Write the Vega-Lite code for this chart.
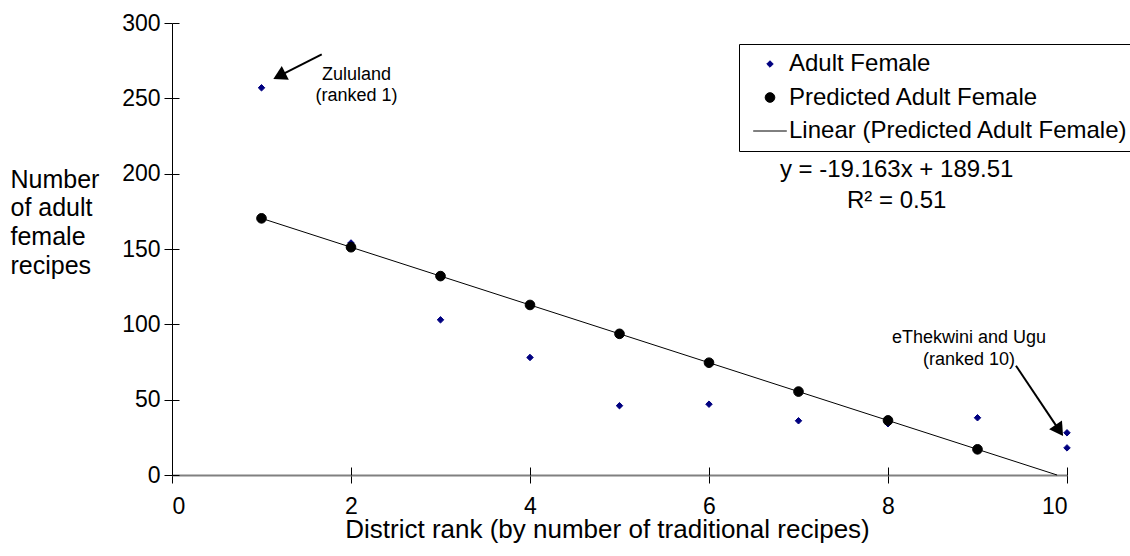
{
  "$schema": "https://vega.github.io/schema/vega-lite/v6.json",
  "width": 895,
  "height": 452,
  "autosize": {"type": "none"},
  "padding": {"left": 172, "top": 23, "right": 63, "bottom": 81},
  "background": "white",
  "config": {
    "font": "Liberation Sans",
    "view": {"stroke": null},
    "axis": {"grid": false, "labelColor": "black", "titleColor": "black", "labelFont": "Liberation Sans", "titleFont": "Liberation Sans", "titleFontWeight": "normal"}
  },
  "datasets": {
    "observed": [
      {"rank": 1, "count": 257, "series": "Adult Female"},
      {"rank": 2, "count": 154, "series": "Adult Female"},
      {"rank": 3, "count": 103, "series": "Adult Female"},
      {"rank": 4, "count": 78, "series": "Adult Female"},
      {"rank": 5, "count": 46, "series": "Adult Female"},
      {"rank": 6, "count": 47, "series": "Adult Female"},
      {"rank": 7, "count": 36, "series": "Adult Female"},
      {"rank": 8, "count": 34, "series": "Adult Female"},
      {"rank": 9, "count": 38, "series": "Adult Female"},
      {"rank": 10, "count": 28, "series": "Adult Female"},
      {"rank": 10, "count": 18, "series": "Adult Female"}
    ],
    "predicted": [
      {"rank": 1, "count": 170.35, "series": "Predicted Adult Female"},
      {"rank": 2, "count": 151.18, "series": "Predicted Adult Female"},
      {"rank": 3, "count": 132.02, "series": "Predicted Adult Female"},
      {"rank": 4, "count": 112.86, "series": "Predicted Adult Female"},
      {"rank": 5, "count": 93.7, "series": "Predicted Adult Female"},
      {"rank": 6, "count": 74.53, "series": "Predicted Adult Female"},
      {"rank": 7, "count": 55.37, "series": "Predicted Adult Female"},
      {"rank": 8, "count": 36.21, "series": "Predicted Adult Female"},
      {"rank": 9, "count": 17.04, "series": "Predicted Adult Female"}
    ],
    "trend": [
      {"rank": 1, "count": 170.35},
      {"rank": 9.889, "count": 0}
    ],
    "equation": [
      {"rank": 8.097, "count": 198.0, "label": "y = -19.163x + 189.51"},
      {"rank": 8.097, "count": 177.0, "label": "R² = 0.51"}
    ],
    "notes": [
      {"rank": 2.061, "count": 262.5, "label": "Zululand"},
      {"rank": 2.061, "count": 248.5, "label": "(ranked 1)"},
      {"rank": 8.905, "count": 87.3, "label": "eThekwini and Ugu"},
      {"rank": 8.905, "count": 73.0, "label": "(ranked 10)"}
    ],
    "arrowLines": [
      {"rank": 1.673, "count": 279.2, "rank2": 1.199, "count2": 264.9},
      {"rank": 9.43, "count": 72.5, "rank2": 9.914, "count2": 29.6}
    ]
  },
  "resolve": {"axis": {"x": "independent", "y": "independent"}},
  "layer": [
    {
      "data": {"name": "observed"},
      "mark": {"type": "point", "filled": true, "opacity": 1, "strokeWidth": 1},
      "encoding": {
        "x": {
          "field": "rank", "type": "quantitative",
          "scale": {"domain": [0, 10], "nice": false},
          "axis": {
            "orient": "bottom",
            "values": [0, 2, 4, 6, 8, 10],
            "tickSize": 8, "tickColor": "black", "tickWidth": 1,
            "domainColor": "#808080", "domainWidth": 2,
            "labelFontSize": 23, "labelPadding": 12,
            "title": "District rank (by number of traditional recipes)",
            "titleFontSize": 26, "titleX": 435, "titleY": 62, "titleBaseline": "alphabetic", "titleAlign": "center"
          }
        },
        "y": {
          "field": "count", "type": "quantitative",
          "scale": {"domain": [0, 300], "nice": false},
          "axis": {
            "orient": "left",
            "values": [0, 50, 100, 150, 200, 250, 300],
            "tickSize": 8, "tickColor": "black", "tickWidth": 1,
            "domainColor": "black", "domainWidth": 1,
            "labelFontSize": 23, "labelPadding": 4,
            "title": ["Number", "of adult", "female", "recipes"],
            "titleAngle": 0, "titleAlign": "left", "titleBaseline": "alphabetic",
            "titleX": -162, "titleY": 164, "titleFontSize": 25, "titleLineHeight": 28.7
          }
        },
        "color": {
          "field": "series", "type": "nominal",
          "scale": {"domain": ["Adult Female", "Predicted Adult Female", "Linear (Predicted Adult Female)"], "range": ["#000080", "#000000", "#000000"]},
          "legend": {
            "title": null,
            "orient": "none",
            "legendX": 567,
            "legendY": 21,
            "strokeColor": "black",
            "fillColor": "white",
            "padding": 8,
            "labelFontSize": 24,
            "labelColor": "black",
            "labelLimit": 600,
            "labelOffset": 7,
            "rowPadding": 9.5,
            "symbolOffset": 11,
            "symbolStrokeWidth": 1
          }
        },
        "stroke": {
          "field": "series", "type": "nominal",
          "scale": {"domain": ["Adult Female", "Predicted Adult Female", "Linear (Predicted Adult Female)"], "range": ["#000080", "#000000", "#000000"]},
          "legend": {"title": null}
        },
        "shape": {
          "field": "series", "type": "nominal",
          "scale": {"domain": ["Adult Female", "Predicted Adult Female", "Linear (Predicted Adult Female)"], "range": ["diamond", "circle", "M-2.8,0L2.8,0"]},
          "legend": {"title": null}
        },
        "size": {
          "field": "series", "type": "nominal",
          "scale": {"domain": ["Adult Female", "Predicted Adult Female", "Linear (Predicted Adult Female)"], "range": [42, 144, 100]},
          "legend": {"title": null}
        }
      }
    },
    {
      "data": {"name": "predicted"},
      "mark": {"type": "point", "filled": true, "opacity": 1, "strokeWidth": 1},
      "encoding": {
        "x": {
          "field": "rank", "type": "quantitative",
          "axis": {"orient": "bottom", "values": [0, 2, 4, 6, 8, 10], "tickSize": -8, "tickColor": "black", "labels": false, "domain": false, "title": null}
        },
        "y": {
          "field": "count", "type": "quantitative",
          "axis": {"orient": "left", "values": [0, 50, 100, 150, 200, 250, 300], "tickSize": -7, "tickColor": "black", "labels": false, "domain": false, "title": null}
        },
        "color": {"field": "series", "type": "nominal"},
        "stroke": {"field": "series", "type": "nominal"},
        "shape": {"field": "series", "type": "nominal"},
        "size": {"field": "series", "type": "nominal"}
      }
    },
    {
      "data": {"name": "trend"},
      "mark": {"type": "line", "color": "black", "strokeWidth": 1},
      "encoding": {
        "x": {"field": "rank", "type": "quantitative", "axis": null},
        "y": {"field": "count", "type": "quantitative", "axis": null}
      }
    },
    {
      "data": {"name": "equation"},
      "mark": {"type": "text", "fontSize": 24, "align": "center", "baseline": "alphabetic", "color": "black"},
      "encoding": {
        "x": {"field": "rank", "type": "quantitative", "axis": null},
        "y": {"field": "count", "type": "quantitative", "axis": null},
        "text": {"field": "label"}
      }
    },
    {
      "data": {"name": "notes"},
      "mark": {"type": "text", "fontSize": 18, "align": "center", "baseline": "alphabetic", "color": "black"},
      "encoding": {
        "x": {"field": "rank", "type": "quantitative", "axis": null},
        "y": {"field": "count", "type": "quantitative", "axis": null},
        "text": {"field": "label"}
      }
    },
    {
      "data": {"name": "arrowLines"},
      "mark": {"type": "rule", "color": "black", "strokeWidth": 2},
      "encoding": {
        "x": {"field": "rank", "type": "quantitative", "axis": null},
        "y": {"field": "count", "type": "quantitative", "axis": null},
        "x2": {"field": "rank2"},
        "y2": {"field": "count2"}
      }
    },
    {
      "data": {"values": [{"rank": 1.199, "count": 264.9}]},
      "mark": {"type": "point", "shape": "triangle-up", "filled": true, "size": 240, "color": "black", "opacity": 1, "angle": 243},
      "encoding": {
        "x": {"field": "rank", "type": "quantitative", "axis": null},
        "y": {"field": "count", "type": "quantitative", "axis": null}
      }
    },
    {
      "data": {"values": [{"rank": 9.914, "count": 29.6}]},
      "mark": {"type": "point", "shape": "triangle-up", "filled": true, "size": 240, "color": "black", "opacity": 1, "angle": 146},
      "encoding": {
        "x": {"field": "rank", "type": "quantitative", "axis": null},
        "y": {"field": "count", "type": "quantitative", "axis": null}
      }
    }
  ]
}
